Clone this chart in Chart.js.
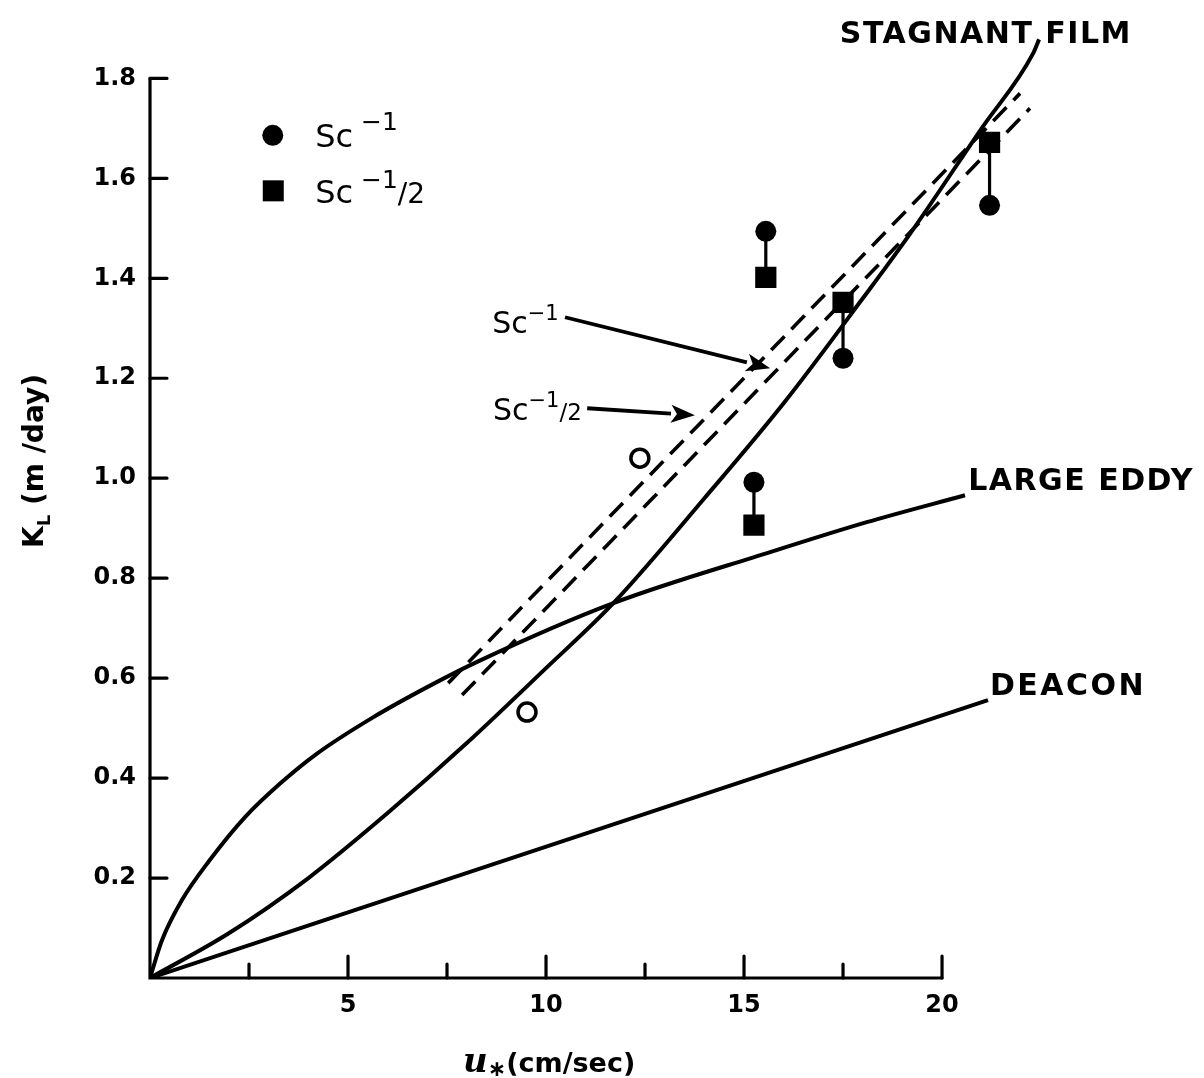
<!DOCTYPE html>
<html>
<head>
<meta charset="utf-8">
<script src="https://cdn.jsdelivr.net/npm/chart.js@4.4.0/dist/chart.umd.min.js"></script>
<style>
  html, body { margin: 0; padding: 0; background: #fff; }
  #wrap { width: 1204px; height: 1078px; }
</style>
</head>
<body>
<div id="wrap"><canvas id="chart" width="1204" height="1078"></canvas></div>
<script>
// curves (u* in cm/sec, K_L in m/day)
const stagnantU = [0, 2, 4, 6, 8, 10, 11.7, 14, 16, 18, 19.2, 21, 22.3, 22.45];
const stagnantK = [0, 0.09, 0.2, 0.33, 0.47, 0.62, 0.75, 0.96, 1.15, 1.36, 1.49, 1.70, 1.85, 1.878];
const eddyU = [0, 0.3, 0.8, 1.5, 2.4, 3.3, 4.2, 5.6, 7.0, 8.3, 11.7, 15.66, 18.1, 20.58];
const eddyK = [0, 0.075, 0.155, 0.235, 0.322, 0.39, 0.448, 0.52, 0.582, 0.634, 0.75, 0.852, 0.912, 0.966];
const deaconU = [0, 21.16];
const deaconK = [0, 0.556];
const dashSc1U = [7.88, 22.22];
const dashSc1K = [0.566, 1.74];
const dashSc12U = [7.53, 21.97];
const dashSc12K = [0.59, 1.77];

// measured points: each u has one Sc^-1 and one Sc^-1/2 value
const pairU = [15.25, 15.55, 17.5, 21.2];
const sc1K = [0.992, 1.494, 1.24, 1.546];
const sc12K = [0.906, 1.402, 1.352, 1.672];
const openU = [9.52, 12.37];
const openK = [0.532, 1.04];

const xTicks = [5, 10, 15, 20];
const xMinor = [2.5, 7.5, 12.5, 17.5];
const yTicks = [0.2, 0.4, 0.6, 0.8, 1.0, 1.2, 1.4, 1.6, 1.8];

const pts = (us, ks) => us.map((u, i) => ({x: u, y: ks[i]}));
const links = pairU.flatMap((u, i) => [{x: u, y: sc1K[i]}, {x: u, y: sc12K[i]}, {x: u, y: null}]);

const INK = '#000';
const FONT = '"DejaVu Sans", sans-serif';

// where the hand lettering sits, in data units
const notes = {
    legend: {u: 3.1, k1: 1.686, k2: 1.574, textU: 4.17, base1: 1.662, base2: 1.55},
    stagnant: {u: 17.42, k: 1.87},
    eddy: {u: 20.66, k: 0.976},
    deacon: {u: 21.21, k: 0.566},
    sc1Label: {u: 8.64, k: 1.29},
    sc12Label: {u: 8.66, k: 1.116},
    sc1Arrow: [10.48, 1.322, 15.66, 1.22],
    sc12Arrow: [11.04, 1.14, 13.76, 1.126]
};

function runs(ctx, x, y, parts) {
    for (const [t, f, dy] of parts) {
        ctx.font = f;
        ctx.fillText(t, x, y + dy);
        x += ctx.measureText(t).width;
    }
}

function arrow(ctx, x1, y1, x2, y2) {
    const a = Math.atan2(y2 - y1, x2 - x1);
    const len = 24, hw = 9;
    const bx = x2 - len * Math.cos(a), by = y2 - len * Math.sin(a);
    ctx.beginPath();
    ctx.moveTo(x1, y1);
    ctx.lineTo(bx, by);
    ctx.stroke();
    ctx.beginPath();
    ctx.moveTo(x2, y2);
    ctx.lineTo(bx + hw * Math.sin(a), by - hw * Math.cos(a));
    ctx.lineTo(bx + 6 * Math.cos(a), by + 6 * Math.sin(a));
    ctx.lineTo(bx - hw * Math.sin(a), by + hw * Math.cos(a));
    ctx.closePath();
    ctx.fill();
}

const figureInk = {
    id: 'figureInk',
    afterDraw(chart) {
        const {ctx} = chart;
        const xs = chart.scales.x, ys = chart.scales.y;
        const px = u => xs.getPixelForValue(u), py = k => ys.getPixelForValue(k);
        const x0 = px(0), y0 = py(0);
        ctx.save();
        ctx.strokeStyle = INK;
        ctx.fillStyle = INK;
        ctx.lineCap = 'round';

        // axes with inward ticks
        ctx.lineWidth = 3.2;
        ctx.beginPath();
        ctx.moveTo(x0, py(1.8));
        ctx.lineTo(x0, y0);
        ctx.lineTo(px(20), y0);
        ctx.stroke();
        ctx.beginPath();
        yTicks.forEach(k => { ctx.moveTo(x0, py(k)); ctx.lineTo(x0 + 17, py(k)); });
        xTicks.forEach(u => { ctx.moveTo(px(u), y0); ctx.lineTo(px(u), y0 - 22); });
        xMinor.forEach(u => { ctx.moveTo(px(u), y0); ctx.lineTo(px(u), y0 - 14); });
        ctx.stroke();

        // legend
        const lg = notes.legend;
        ctx.beginPath();
        ctx.arc(px(lg.u), py(lg.k1), 10.5, 0, Math.PI * 2);
        ctx.fill();
        ctx.fillRect(px(lg.u) - 10, py(lg.k2) - 11, 21, 21);
        ctx.textBaseline = 'alphabetic';
        ctx.textAlign = 'left';
        runs(ctx, px(lg.textU), py(lg.base1), [['Sc', '32px ' + FONT, 0], [' \u22121', '25px ' + FONT, -17]]);
        runs(ctx, px(lg.textU), py(lg.base2), [['Sc', '32px ' + FONT, 0], [' \u22121', '25px ' + FONT, -15], ['/2', '28px ' + FONT, 0]]);

        // curve names
        ctx.letterSpacing = '1.5px';
        ctx.font = 'bold 30px ' + FONT;
        ctx.fillText('STAGNANT FILM', px(notes.stagnant.u), py(notes.stagnant.k));
        ctx.fillText('LARGE EDDY', px(notes.eddy.u), py(notes.eddy.k));
        ctx.letterSpacing = '2.5px';
        ctx.fillText('DEACON', px(notes.deacon.u), py(notes.deacon.k));
        ctx.letterSpacing = '0px';

        // arrows to the dashed lines
        runs(ctx, px(notes.sc1Label.u), py(notes.sc1Label.k), [['Sc', '30px ' + FONT, 0], ['\u22121', '21px ' + FONT, -13]]);
        runs(ctx, px(notes.sc12Label.u), py(notes.sc12Label.k), [['Sc', '30px ' + FONT, 0], ['\u22121', '21px ' + FONT, -13], ['/2', '23px ' + FONT, 0]]);
        ctx.lineWidth = 3.8;
        ctx.lineCap = 'butt';
        const a1 = notes.sc1Arrow, a2 = notes.sc12Arrow;
        arrow(ctx, px(a1[0]), py(a1[1]), px(a1[2]), py(a1[3]));
        arrow(ctx, px(a2[0]), py(a2[1]), px(a2[2]), py(a2[3]));

        // axis titles
        runs(ctx, 463, 1072, [['u', 'italic bold 34px "DejaVu Serif", serif', 0], ['\u2217', 'bold 22px ' + FONT, 4], ['(cm/sec)', 'bold 27px ' + FONT, 0]]);
        ctx.translate(43, 548);
        ctx.rotate(-Math.PI / 2);
        runs(ctx, 0, 0, [['K', 'bold 28px ' + FONT, 0], ['L', 'bold 18px ' + FONT, 7], [' (m /day)', 'bold 28px ' + FONT, 0]]);
        ctx.restore();
    }
};

const curve = (data, extra) => Object.assign({
    data, showLine: true, borderColor: INK, borderWidth: 4, pointRadius: 0,
    fill: false, cubicInterpolationMode: 'monotone'
}, extra);

new Chart(document.getElementById('chart'), {
    type: 'scatter',
    data: {
        datasets: [
            {label: 'open', data: pts(openU, openK), pointStyle: 'circle', pointRadius: 9,
                backgroundColor: '#fff', borderColor: INK, borderWidth: 3.5},
            {label: 'Sc-1', data: pts(pairU, sc1K), pointStyle: 'circle', pointRadius: 10.5,
                backgroundColor: INK, borderColor: INK, borderWidth: 0},
            {label: 'Sc-1/2', data: pts(pairU, sc12K), pointStyle: 'rect', pointRadius: 15,
                backgroundColor: INK, borderColor: INK, borderWidth: 0},
            curve(links, {borderWidth: 3.2, spanGaps: false}),
            curve(pts(dashSc1U, dashSc1K), {borderWidth: 3.6, borderDash: [19, 10]}),
            curve(pts(dashSc12U, dashSc12K), {borderWidth: 3.6, borderDash: [19, 10]}),
            curve(pts(stagnantU, stagnantK)),
            curve(pts(eddyU, eddyK)),
            curve(pts(deaconU, deaconK))
        ]
    },
    options: {
        responsive: false,
        animation: false,
        layout: {padding: {left: 0, top: 28, right: 159, bottom: 0}},
        plugins: {legend: {display: false}, tooltip: {enabled: false}},
        scales: {
            x: {
                type: 'linear', min: 0, max: 22.6,
                grid: {display: false, drawTicks: false},
                border: {display: false},
                afterBuildTicks: s => { s.ticks = xTicks.map(v => ({value: v})); },
                afterFit: s => { s.height = 100; },
                ticks: {color: INK, padding: 13, font: {family: FONT, size: 24, weight: 'bold'}}
            },
            y: {
                type: 'linear', min: 0, max: 1.9,
                grid: {display: false, drawTicks: false},
                border: {display: false},
                afterBuildTicks: s => { s.ticks = yTicks.map(v => ({value: v})); },
                afterFit: s => { s.width = 150; },
                ticks: {color: INK, padding: 14, font: {family: FONT, size: 24, weight: 'bold'},
                    callback: v => v.toFixed(1)}
            }
        }
    },
    plugins: [figureInk]
});
</script>
</body>
</html>
